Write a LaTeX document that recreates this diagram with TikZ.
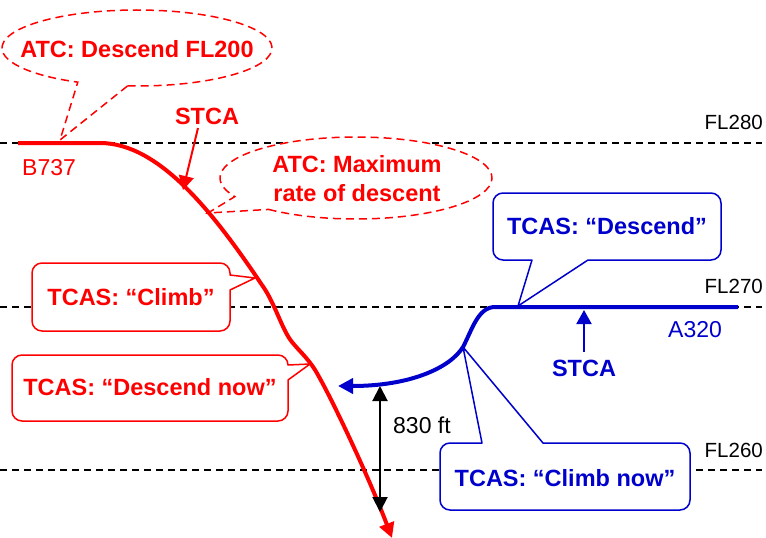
\documentclass[tikz,border=0pt]{standalone}
\usepackage{fontspec}
\setmainfont{Liberation Sans}
\usetikzlibrary{arrows.meta}
\definecolor{myred}{RGB}{255,0,0}
\definecolor{myblue}{RGB}{0,0,204}
\begin{document}
\begin{tikzpicture}[x=1pt,y=1pt,
  flline/.style={black,line width=1.5pt,dash pattern=on 7pt off 5pt},
  redcall/.style={draw=myred,fill=white,line width=1.5pt,line join=round},
  bluecall/.style={draw=myblue,fill=white,line width=1.5pt,line join=round},
  ellcall/.style={draw=myred,fill=white,line width=1.5pt,dash pattern=on 8pt off 5pt},
  boldtxt/.style={font=\fontsize{23.5}{29}\selectfont\bfseries,inner sep=0pt},
  regtxt/.style={font=\fontsize{23}{28}\selectfont,inner sep=0pt},
  fltxt/.style={font=\fontsize{20.5}{24}\selectfont,inner sep=0pt,anchor=base east},
  tri/.style={-{Triangle[length=14pt,width=15pt]}},
  track/.style={line width=4pt,line join=round,-{Triangle[length=15pt,width=15pt]}},
]
\useasboundingbox (0,0) rectangle (766,-538);

% flight levels
\coordinate (fl28a) at (0,-143);   \coordinate (fl28b) at (762,-143);
\coordinate (fl27a) at (0,-307);   \coordinate (fl27b) at (762,-307);
\coordinate (fl26a) at (0,-470);   \coordinate (fl26b) at (762,-470);
\draw[flline] (fl28a) -- (fl28b);
\draw[flline] (fl27a) -- (fl27b);
\draw[flline] (fl26a) -- (fl26b);
\node[fltxt] (l280) at (763,-129) {FL280};
\node[fltxt] (l270) at (763,-293) {FL270};
\node[fltxt] (l260) at (763,-457) {FL260};

% ATC callouts (dashed ellipses)
\filldraw[ellcall] ([shift={(137,-48)}]-94:135 and 38)
  arc[start angle=-94,end angle=244,x radius=135,y radius=38] -- (60,-140) -- cycle;
\filldraw[ellcall] ([shift={(356,-178)}]-130:136 and 41)
  arc[start angle=-130,end angle=207,x radius=136,y radius=41] -- (208,-213) -- cycle;

% TCAS callouts (rounded boxes)
\filldraw[redcall] (42,-263) -- (220,-263) arc[start angle=90,end angle=0,radius=10]
  -- (230,-275) -- (255,-278) -- (230,-290) -- (230,-321) arc[start angle=0,end angle=-90,radius=10]
  -- (42,-331) arc[start angle=-90,end angle=-180,radius=10]
  -- (32,-273) arc[start angle=180,end angle=90,radius=10] -- cycle;
\filldraw[redcall] (22,-355) -- (278,-355) arc[start angle=90,end angle=0,radius=10]
  -- (310,-364) -- (288,-380) -- (288,-411) arc[start angle=0,end angle=-90,radius=10]
  -- (22,-421) arc[start angle=-90,end angle=-180,radius=10]
  -- (12,-365) arc[start angle=180,end angle=90,radius=10] -- cycle;
\filldraw[bluecall] (503,-193) -- (711,-193) arc[start angle=90,end angle=0,radius=10]
  -- (721,-250) arc[start angle=0,end angle=-90,radius=10]
  -- (588,-260) -- (518,-306) -- (532,-260)
  -- (503,-260) arc[start angle=-90,end angle=-180,radius=10]
  -- (493,-203) arc[start angle=180,end angle=90,radius=10] -- cycle;
\filldraw[bluecall] (450,-443) -- (482,-443) -- (463,-347) -- (543,-443)
  -- (680,-443) arc[start angle=90,end angle=0,radius=10]
  -- (690,-500) arc[start angle=0,end angle=-90,radius=10]
  -- (450,-510) arc[start angle=-90,end angle=-180,radius=10]
  -- (440,-453) arc[start angle=180,end angle=90,radius=10] -- cycle;

% tracks
\coordinate (b737start) at (18,-143);
\coordinate (b737end) at (392,-538);
\coordinate (a320start) at (738,-307);
\coordinate (a320end) at (338,-386);
\draw[track,myred] (b737start) -- (100,-143)
  .. controls (160,-143) and (215,-215) .. (262,-285)
  .. controls (275,-303) and (282,-330) .. (292,-342)
  .. controls (300,-352) and (310,-360) .. (318,-375)
  .. controls (335,-405) and (370,-480) .. (b737end);
\draw[track,myblue] (a320start) -- (495,-307)
  .. controls (478,-307) and (472,-330) .. (463,-347)
  .. controls (450,-368) and (410,-386) .. (a320end);

% labels
\node[boldtxt,text=myred,anchor=base] (atc1) at (137,-57) {ATC: Descend FL200};
\node[boldtxt,text=myred,align=center] (atc2) at (357,-179) {ATC: Maximum\\rate of descent};
\node[boldtxt,text=myred,anchor=base] (stcar) at (207,-124) {STCA};
\node[boldtxt,text=myred,anchor=base] (tclimb) at (131,-305) {TCAS: “Climb”};
\node[boldtxt,text=myred,anchor=base] (tdnow) at (150,-395) {TCAS: “Descend now”};
\node[boldtxt,text=myblue,anchor=base] (tdesc) at (607,-234) {TCAS: “Descend”};
\node[boldtxt,text=myblue,anchor=base] (tcnow) at (565,-486) {TCAS: “Climb now”};
\node[boldtxt,text=myblue,anchor=base] (stcab) at (584,-376) {STCA};
\node[regtxt,text=myred,anchor=base west] (b737) at (22,-175) {B737};
\node[regtxt,text=myblue,anchor=base west] (a320) at (668,-337) {A320};
\node[regtxt,anchor=base west] (sep) at (393,-433) {830 ft};

% arrows
\coordinate (stcarA) at (198,-128);  \coordinate (stcarB) at (183,-190);
\draw[myred,line width=2pt,tri] (stcarA) -- (stcarB);
\coordinate (stcabA) at (584,-352);  \coordinate (stcabB) at (584,-310);
\draw[myblue,line width=2pt,tri] (stcabA) -- (stcabB);
\coordinate (sepA) at (380,-386);  \coordinate (sepB) at (380,-512);
\draw[black,line width=2pt,{Triangle[length=15pt,width=15pt]}-{Triangle[length=15pt,width=15pt]}] (sepA) -- (sepB);
\end{tikzpicture}
\end{document}
